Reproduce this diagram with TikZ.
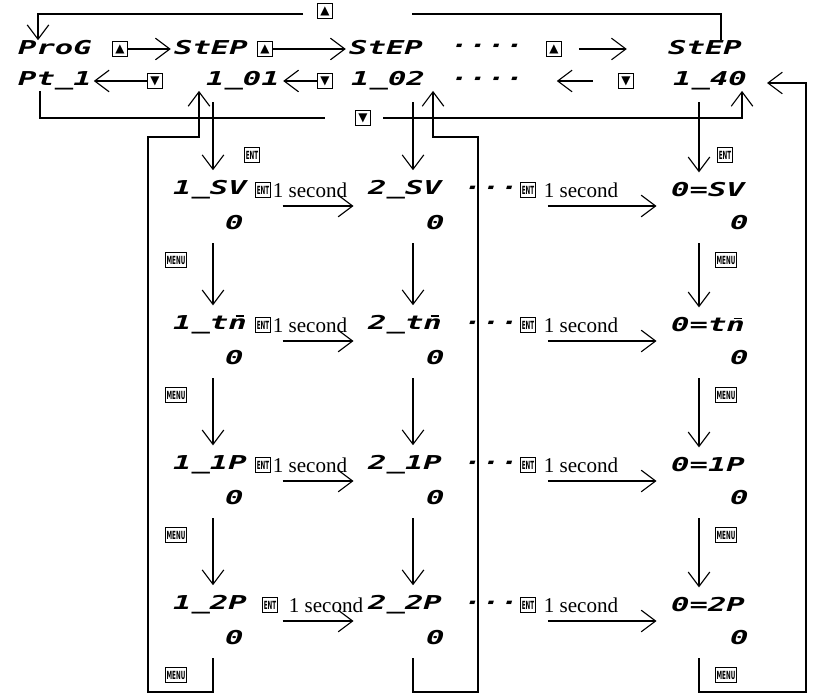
\documentclass[tikz,border=0pt]{standalone}
\usepackage{fontspec}
\usepackage{graphicx}
\usetikzlibrary{arrows.meta,positioning}
\setmainfont{Liberation Serif}
\newfontfamily\segfont{DejaVu Sans Mono}[FakeStretch=1.6]
\newfontfamily\keyfont{DejaVu Sans}
\newfontfamily\symfont{DejaVu Sans}
% letter with the top segment lit
\newcommand\topseg[1]{\ooalign{#1\cr\hidewidth\kern0.25em\rule[0.66em]{0.45em}{0.09em}\hidewidth\cr}}

\begin{document}
\begin{tikzpicture}[x=0.025cm, y=-0.025cm, line width=0.8pt,
    disp/.style={font=\segfont\bfseries\itshape\fontsize{13.6}{14}\selectfont, inner sep=0pt},
    updn/.style={draw, line width=0.7pt, minimum size=0.37cm, inner sep=0pt, font=\symfont\fontsize{8.5}{9}\selectfont},
    btn/.style={draw, line width=0.5pt, inner sep=1pt, minimum height=0.37cm, font=\keyfont\bfseries\fontsize{8}{8}\selectfont},
    sec/.style={font=\fontsize{15}{16}\selectfont, inner sep=0pt},
    arr/.style={-{Straight Barb[length=3.6mm, width=5.4mm]}}]
    \useasboundingbox (0,0) rectangle (816,695);
    % top line: program and steps
    \node[disp] (prog) at (55,48) {ProG}; %
    \node[updn] (up1) at (120,49) {▲}; %
    \node[disp] (step1) at (211,48) {StEP}; %
    \node[updn] (up2) at (265,49) {▲}; %
    \node[disp] (step2) at (386,48) {StEP}; %
    \node[disp] (dots1) at (487,48) {····}; %
    \node[updn] (up3) at (554,49) {▲}; %
    \node[disp] (step3) at (705,48) {StEP}; %
    \draw[arr, shorten >=2pt] (up1.east) -- (up1.east -| step1.west); %
    \draw[arr, shorten >=2pt] (up2.east) -- (up2.east -| step2.west); %
    \draw[arr, shorten <=12pt, shorten >=29pt] (up3.east) -- (up3.east -| step3.west); %
    % second line: pattern and step numbers
    \node[disp] (pt1) at (55,81) {Pt\_1}; %
    \node[updn] (dn1) at (155,81) {▼}; %
    \node[disp] (p101) at (243,81) {1\_01}; %
    \node[updn] (dn2) at (325,81) {▼}; %
    \node[disp] (p102) at (388,81) {1\_02}; %
    \node[disp] (dots2) at (487,81) {····}; %
    \node[updn] (dn3) at (626,81) {▼}; %
    \node[disp] (p140) at (710,81) {1\_40}; %
    \draw[arr, shorten >=1pt] (dn1.west) -- (dn1.west -| pt1.east); %
    \draw[arr, shorten >=2pt] (dn2.west) -- (dn2.west -| p101.east); %
    \draw[arr, shorten <=18pt, shorten >=23pt] (dn3.west) -- (dn3.west -| dots2.east); %
    % wrap round with the up key
    \node[updn] (upt) at (325,11) {▲}; %
    \coordinate (tr) at (721,14); \coordinate (tl) at (38,14); %
    \coordinate (tg1) at (412,14); \coordinate (tg2) at (303,14); %
    \draw (step3.north -| tr) -- (tr) -- (tg1); %
    \draw[arr] (tg2) -- (tl) -- (prog.north -| tl); %
    % wrap round with the down key
    \node[updn] (dnb) at (363,118) {▼}; %
    \coordinate (bl) at (40,118); \coordinate (br) at (742,118); %
    \coordinate (bg1) at (325,118); \coordinate (bg2) at (383,118); %
    \draw (pt1.south -| bl) -- (bl) -- (bg1); %
    \draw[arr] (bg2) -- (br) -- (p140.south -| br); %
    % columns
    \coordinate (ca) at (213,0); \coordinate (cb) at (413,0); \coordinate (cc) at (699,0); %
    \coordinate (fab) at (148,692); \coordinate (fat) at (199,137); %
    \coordinate (fbb) at (478,692); \coordinate (fbt) at (433,137); %
    \coordinate (fcb) at (806,692); \coordinate (fct) at (767,83); %
    \foreach \y/\nm/\ex/\sx [count=\i] in {190/SV/263/310, 325/t\topseg{n}/263/310, 465/1P/263/310, 605/2P/270/326} {
        \node[disp] (a\i) at (210,\y) {1\_\nm}; %
        \node[disp] (b\i) at (405,\y) {2\_\nm}; %
        \node[disp] (c\i) at (708,\y) {0=\nm}; %
        \node[disp, anchor=east] (va\i) at (244,\y+33) {0}; %
        \node[disp, anchor=east] (vb\i) at (445,\y+33) {0}; %
        \node[disp, anchor=east] (vc\i) at (749,\y+33) {0}; %
        \node[btn] (ma\i) at (176,\y+70) {\scalebox{.5}[1]{MENU}}; %
        \node[btn] (mc\i) at (726,\y+70) {\scalebox{.5}[1]{MENU}}; %
        % ENT held 1 second
        \node[btn] (ea\i) at (\ex,\y) {\scalebox{.5}[1]{ENT}}; %
        \node[sec] (sa\i) at (\sx,\y) {1 second}; %
        \node[disp] (db\i) at (491,\y) {···}; %
        \node[btn] (eb\i) at (528,\y) {\scalebox{.5}[1]{ENT}}; %
        \node[sec] (sb\i) at (581,\y) {1 second}; %
        \draw[arr, shorten <=25pt, shorten >=10pt] ([yshift=-0.4cm]a\i.east) -- ([yshift=-0.4cm]b\i.west); %
        \draw[arr, shorten <=75pt, shorten >=10pt] ([yshift=-0.4cm]b\i.east) -- ([yshift=-0.4cm]c\i.west); %
    }
    \node[btn] (ent1) at (252,155) {\scalebox{.5}[1]{ENT}}; %
    \node[btn] (ent3) at (725,155) {\scalebox{.5}[1]{ENT}}; %
    \draw[arr, shorten <=8pt, shorten >=7pt] (p101.south -| ca) -- (a1.north -| ca); %
    \draw[arr, shorten <=8pt, shorten >=7pt] (p102.south -| cb) -- (b1.north -| cb); %
    \draw[arr, shorten <=8pt, shorten >=7pt] (p140.south -| cc) -- (c1.north -| cc); %
    \foreach \i/\j in {1/2, 2/3, 3/4} {
        \draw[arr, shorten <=9pt, shorten >=7pt] (va\i.south -| ca) -- (a\j.north -| ca); %
        \draw[arr, shorten <=9pt, shorten >=7pt] (vb\i.south -| cb) -- (b\j.north -| cb); %
        \draw[arr, shorten <=9pt, shorten >=7pt] (vc\i.south -| cc) -- (c\j.north -| cc); %
    }
    % MENU after the last item goes back to the step
    \draw[arr, shorten <=9pt] (va4.south -| ca) |- (fab) |- (fat) -- (p101.south -| fat); %
    \draw[arr, shorten <=9pt] (vb4.south -| cb) |- (fbb) |- (fbt) -- (p102.south -| fbt); %
    \draw[arr, shorten <=9pt] (vc4.south -| cc) |- (fcb) |- (fct); %
\end{tikzpicture}
\end{document}
